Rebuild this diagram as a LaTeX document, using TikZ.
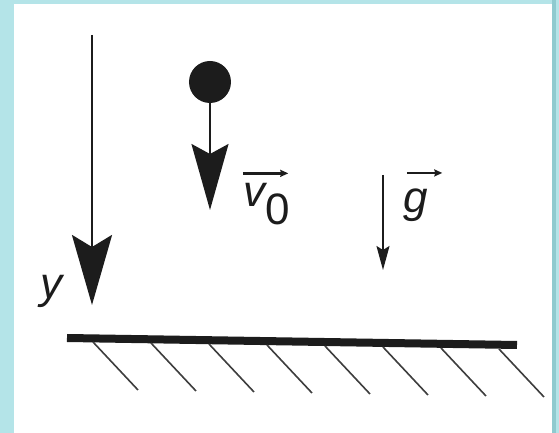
\documentclass[tikz,border=0pt]{standalone}
\usepackage{fontspec}
\setmainfont{Liberation Sans}
\usetikzlibrary{arrows.meta,positioning}
\definecolor{frame}{HTML}{B4E4E8}
\definecolor{frameedge}{HTML}{8FCACF}
\definecolor{ink}{HTML}{1C1C1C}
\tikzset{
  axisarrow/.style={-{Stealth[length=35pt,width=20pt,inset=6pt]}, line width=1.4pt, draw=ink},
  velarrow/.style={-{Stealth[length=33pt,width=18.5pt,inset=5pt]}, line width=1.1pt, draw=ink},
  gravarrow/.style={-{Stealth[length=12pt,width=6.5pt,inset=2pt]}, line width=0.8pt, draw=ink},
  overarrow/.style={-{Stealth[length=4pt,width=3.5pt,inset=0.5pt]}, line width=1.2pt, draw=ink},
  groundline/.style={line width=4pt, draw=ink},
  hatch/.style={line width=0.8pt, draw=ink!85},
  lbl/.style={font=\fontsize{22}{26}\selectfont\itshape, text=ink, inner sep=0pt, anchor=base west},
  ballnode/.style={circle, fill=ink, minimum size=21pt, inner sep=0pt},
}

\begin{document}
\begin{tikzpicture}[x=0.5pt, y=-0.5pt]
% frame
\fill[frame] (0,0) rectangle (559,433);
\fill[frameedge] (552,0) rectangle (556,433);
\fill[white] (14,4) rectangle (552,433);
\useasboundingbox (0,0) rectangle (559,433);
% y axis
\coordinate (ytop) at (92,35);
\coordinate (ytip) at (92,305);
\draw[axisarrow] (ytop) -- (ytip);
\node[lbl] (ylab) at (40,299) {y};
% ball and initial velocity
\node[ballnode] (ball) at (210,82) {};
\coordinate (vtip) at (210,210);
\draw[velarrow] (ball.south) -- (vtip);
\node[lbl] (vlab) at (243,207) {v\raisebox{-9pt}{\upshape 0}};
\draw[overarrow] ([yshift=5pt]vlab.north west) -- ([yshift=5pt,xshift=-1pt]vlab.north east);
% gravity
\coordinate (gtop) at (383,175);
\coordinate (gtip) at (383,270);
\draw[gravarrow] (gtop) -- (gtip);
\node[lbl] (glab) at (403,213) {g};
\draw[overarrow] ([yshift=8pt,xshift=2pt]glab.north west) -- ([yshift=8pt,xshift=7pt]glab.north east);
% ground
\coordinate (gl) at (67,338);
\coordinate (gr) at (517,345);
\draw[groundline] (gl) -- (gr);
\foreach \i in {0,...,7}
  \draw[hatch] (93+58*\i,342+\i) -- ++(45,48);
\end{tikzpicture}
\end{document}
